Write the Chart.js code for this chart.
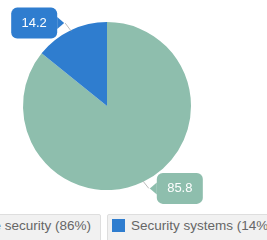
<!DOCTYPE html>
<html>
<head>
<meta charset="utf-8">
<script src="https://cdn.jsdelivr.net/npm/chart.js@4.4.1/dist/chart.umd.min.js"></script>
<style>
  html, body { margin: 0; padding: 0; background: #fff; overflow: hidden; }
  #wrap { position: relative; width: 267px; height: 240px; overflow: hidden; font-family: "Liberation Sans", Arial, sans-serif; }
  #legend .item {
    position: absolute; top: 214px; height: 28px; box-sizing: border-box;
    display: flex; align-items: center; white-space: nowrap;
    background: #f1f1f1; border: 1px solid #dedede; border-radius: 2px;
    padding: 0 9px 6px 4px; font-size: 13.5px; color: #666;
  }
  #legend .sw { width: 13px; height: 13px; margin-right: 6px; flex: none; }
</style>
</head>
<body>
<div id="wrap">
  <canvas id="mycanvas" width="267" height="240"></canvas>
  <div id="legend"></div>
</div>
<script>
var labels = ['Enterprise security', 'Security systems'];
var values = [85.8, 14.2];
var shares = ['86%', '14%'];
var colors = ['#8ebead', '#2f7dcf'];

// callout labels drawn next to each slice
var calloutPlugin = {
    id: 'callout',
    afterDatasetsDraw: function(chart) {
        var ctx = chart.ctx;
        var arcs = chart.getDatasetMeta(0).data;
        ctx.save();
        ctx.font = '13px "Liberation Sans", Arial, sans-serif';
        arcs.forEach(function(arc, i) {
            var p = arc.getProps(['x', 'y', 'startAngle', 'endAngle', 'outerRadius'], true);
            var mid = (p.startAngle + p.endAngle) / 2;
            var ax = p.x + Math.cos(mid) * (p.outerRadius - 1);
            var ay = p.y + Math.sin(mid) * (p.outerRadius - 1);
            var right = Math.cos(mid) >= 0;
            var down = Math.sin(mid) >= 0;
            var txt = values[i].toFixed(1);
            var w = 46, h = 31;
            var bx = right ? ax + 14 : ax - 14 - w;
            var by = ay + (down ? 7.5 : -8) - h / 2;
            // leader line
            var sx = right ? bx : bx + w;
            var sy = by + h / 2;
            ctx.strokeStyle = '#bbb';
            ctx.lineWidth = 1;
            ctx.beginPath();
            ctx.moveTo(ax, ay);
            ctx.lineTo(right ? sx - 8 : sx + 8, sy);
            ctx.stroke();
            // box with notch
            ctx.fillStyle = colors[i];
            ctx.beginPath();
            ctx.roundRect(bx, by, w, h, 6);
            ctx.fill();
            ctx.beginPath();
            ctx.moveTo(sx, sy - 6);
            ctx.lineTo(right ? sx - 7 : sx + 7, sy);
            ctx.lineTo(sx, sy + 6);
            ctx.closePath();
            ctx.fill();
            ctx.fillStyle = '#fff';
            ctx.textAlign = 'center';
            ctx.textBaseline = 'middle';
            ctx.fillText(txt, bx + w / 2, by + h / 2);
        });
        ctx.restore();
    }
};

var ctx = document.getElementById('mycanvas');
var myChart = new Chart(ctx, {
    type: 'pie',
    data: {
        labels: labels,
        datasets: [{
            data: values,
            backgroundColor: colors,
            borderWidth: 0
        }]
    },
    options: {
        responsive: false,
        animation: false,
        layout: { padding: { left: 23, right: 76, top: 22, bottom: 50 } },
        plugins: {
            legend: { display: false },
            tooltip: { enabled: false }
        }
    },
    plugins: [calloutPlugin]
});

// html legend, wider than the page so it gets clipped on both sides
var legend = document.getElementById('legend');
labels.forEach(function(l, i) {
    var item = document.createElement('div');
    item.className = 'item';
    if (i === 0) item.style.right = '166px'; else item.style.left = '107px';
    item.innerHTML = '<span class="sw" style="background:' + colors[i] + '"></span>' + l + ' (' + shares[i] + ')';
    legend.appendChild(item);
});
</script>
</body>
</html>
